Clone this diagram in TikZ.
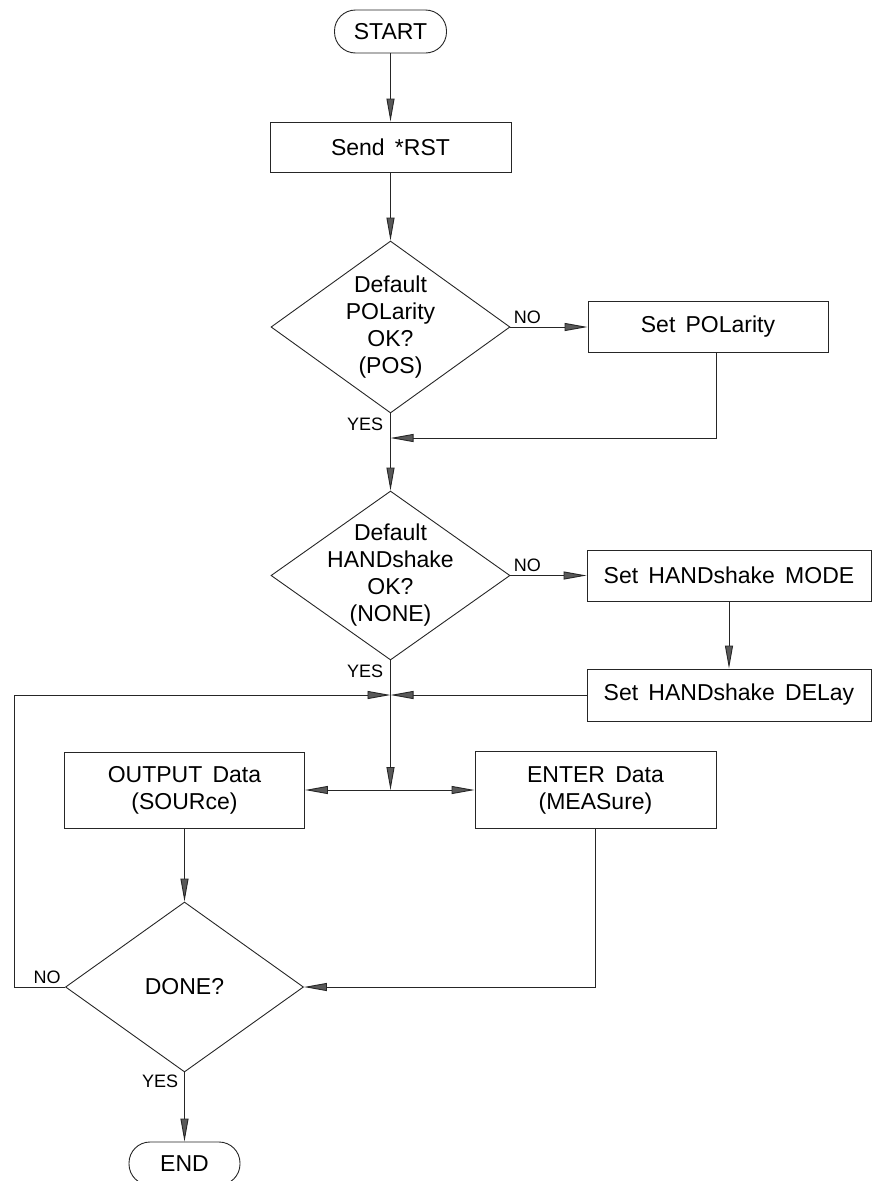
\documentclass[tikz,border=0pt]{standalone}
\usepackage{fontspec}
\setmainfont{Liberation Sans}[WordSpace={1.6,0.5,0.5}]
\usetikzlibrary{arrows.meta,shapes.geometric,calc}
\begin{document}
\begin{tikzpicture}[x=1pt,y=-1pt,line width=0.9pt,draw=black!85,
  box/.style={draw,rectangle,inner sep=0pt,align=center,font=\fontsize{23}{27}\selectfont},
  term/.style={draw,rectangle,rounded corners=21pt,inner sep=0pt,font=\fontsize{23}{27}\selectfont},
  dia/.style={draw,diamond,inner sep=0pt},
  txt/.style={align=center,inner sep=0pt,font=\fontsize{23}{27}\selectfont},
  lbl/.style={inner sep=0pt,font=\fontsize{18}{18}\selectfont},
  arr/.style={-{Triangle[length=23pt,width=8pt,fill=black!65]}}]
\useasboundingbox (0,0) rectangle (873,1181);

\node[term,minimum width=112pt,minimum height=43pt] (start) at (390.5,31.5) {START};
\node[box,minimum width=241pt,minimum height=50pt] (rst) at (390.5,147) {Send *RST};
\node[dia,minimum width=239pt,minimum height=172pt] (d1) at (390.5,327) {};
\node[txt] (d1t) at (d1.center) {Default\\POLarity\\OK?\\(POS)};
\node[box,minimum width=240pt,minimum height=51pt] (pol) at (708,327) {Set POLarity};
\node[dia,minimum width=239pt,minimum height=169pt] (d2) at (390.5,575.5) {};
\node[txt] (d2t) at (d2.center) {Default\\HANDshake\\OK?\\(NONE)};
\node[box,minimum width=284pt,minimum height=51pt] (mode) at (729,575.5) {Set HANDshake MODE};
\node[box,minimum width=284pt,minimum height=52pt] (delay) at (729,695) {Set HANDshake DELay};
\coordinate (j) at (390.5,695);
\coordinate (split) at (390.5,790);
\coordinate (r1) at (390.5,438);
\coordinate (lc) at (14,695);
\node[box,minimum width=240pt,minimum height=76pt] (out) at (184.5,790) {OUTPUT Data\\(SOURce)};
\node[box,minimum width=241pt,minimum height=77pt] (ent) at (595.5,790) {ENTER Data\\(MEASure)};
\node[dia,minimum width=238pt,minimum height=170pt] (done) at (184.5,987) {};
\node[txt] (donet) at (done.center) {DONE?};
\node[term,minimum width=111pt,minimum height=43pt] (end) at (184.5,1163.5) {END};

\draw[arr] (start) -- (rst);
\draw[arr] (rst) -- (d1);
\draw[arr] (d1.east) -- (d1.east -| pol.west);
\draw[arr] ([xshift=8pt]pol.south) |- (r1);
\draw[arr] (d1.south) -- (d2.north);
\draw[arr] (d2.east) -- (d2.east -| mode.west);
\draw[arr] (mode) -- (delay);
\draw[arr] (delay.west) -- (j);
\draw[arr] (done.west) -| (lc) -- (j);
\draw (d2.south) -- (j);
\draw[arr] (j) -- (split);
\draw[arr] (split) -- (split -| out.east);
\draw[arr] (split) -- (split -| ent.west);
\draw[arr] (out) -- (done);
\draw[arr] (ent.south) |- (done.east);
\draw[arr] (done) -- (end);

\node[lbl,anchor=south west] (no1) at ([xshift=3pt,yshift=3pt]d1.east) {NO};
\node[lbl,anchor=north east] (yes1) at ([xshift=-7pt,yshift=-4pt]d1.south) {YES};
\node[lbl,anchor=south west] (no2) at ([xshift=3pt,yshift=3pt]d2.east) {NO};
\node[lbl,anchor=north east] (yes2) at ([xshift=-7pt,yshift=-4pt]d2.south) {YES};
\node[lbl,anchor=south east] (no3) at ([xshift=-4pt,yshift=3pt]done.west) {NO};
\node[lbl,anchor=north east] (yes3) at ([xshift=-6pt,yshift=-2pt]done.south) {YES};
\end{tikzpicture}
\end{document}
